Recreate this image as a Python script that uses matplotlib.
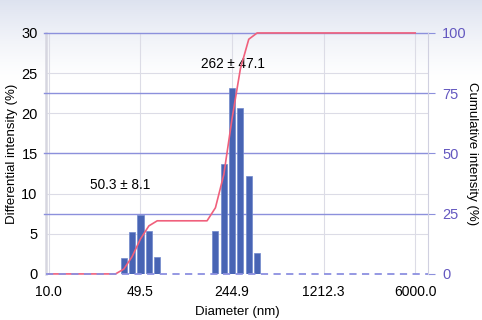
import matplotlib
matplotlib.use("Agg")
import matplotlib.pyplot as plt
import numpy as np

plt.rcParams['font.family'] = ['Liberation Sans', 'DejaVu Sans']

# bin centres (nm) and differential intensity (%) for the two peaks
small_d = [37.0, 42.8, 49.5, 57.3, 66.3]
small_v = [2.0, 5.2, 7.3, 5.4, 2.1]
large_d = [183.2, 212.0, 244.9, 283.4, 327.9, 379.4]
large_v = [5.4, 13.7, 23.2, 20.7, 12.2, 2.6]

# empty bins where the cumulative curve bends
pre_small = 32.0
pre_large = 158.3

xticks = [10.0, 49.5, 244.9, 1212.3, 6000.0]
xtick_labels = ['10.0', '49.5', '244.9', '1212.3', '6000.0']
left_ticks = [0, 5, 10, 15, 20, 25, 30]
right_ticks = [0, 25, 50, 75, 100]

bar_col = '#4864b4'
red = '#f0607c'
blue_grid = '#8c90dc'
purple_txt = '#6458c0'

fig = plt.figure(figsize=(4.82, 3.2), dpi=100)

# soft gradient band at the top of the picture
bg = fig.add_axes([0, 0, 1, 1], zorder=-5)
grad = np.linspace(0, 1, 320).reshape(-1, 1)
alpha = np.clip(1 - grad / 0.25, 0, 1) ** 1.3
img = np.ones((320, 1, 4))
img[..., 0] = 1 - 0.13 * alpha
img[..., 1] = 1 - 0.11 * alpha
img[..., 2] = 1 - 0.06 * alpha
bg.imshow(img, aspect='auto', extent=[0, 1, 0, 1])
bg.axis('off')

ax = fig.add_axes([0.0954, 0.144, 0.793, 0.753])
ax.patch.set_alpha(0)
ax2 = ax.twinx()

ax.set_xscale('log')
xlo, xhi = 9.5, 7530
ax.set_xlim(xlo, xhi)
ax.set_ylim(0, 30)
ax2.set_ylim(0, 100)

# light grey grid
for t in left_ticks[1:-1]:
    ax.axhline(t, color='#dcdce6', lw=0.8, zorder=0)
for t in xticks:
    ax.axvline(t, color='#dcdce6', lw=0.8, zorder=0)

# blue cumulative grid lines
for t in right_ticks[1:]:
    ax2.axhline(t, color=blue_grid, lw=1.0, zorder=1, xmin=-0.006, clip_on=False)

# bars, equal width on log axis
h = 0.0228
for d, v in zip(small_d + large_d, small_v + large_v):
    l = d * 10 ** (-h)
    r = d * 10 ** h
    ax2.bar(l, v / 30 * 100, width=r - l, align='edge', color=bar_col, edgecolor='#7088cc',
            lw=0.5, zorder=3)

# cumulative curve
cum_d = [10.0, pre_small] + small_d + [pre_large] + large_d + [6000.0]
vals = [0, 0] + small_v + [0] + large_v
cum_v = list(np.cumsum(vals))
total = cum_v[-1]
cum_v = [c / total * 100 for c in cum_v] + [100]
ax2.plot(cum_d, cum_v, color=red, lw=1.2, zorder=4, clip_on=False)

# baseline dashed, on top of the curve
ax2.plot([xlo, xhi], [0, 0], ls=(0, (4, 3)), color='#8c90e0', lw=1.3, zorder=5, clip_on=False)

ax.text(34.6, 11.1, '50.3 ± 8.1', ha='center', va='center', fontsize=9.8)
ax.text(249, 26.1, '262 ± 47.1', ha='center', va='center', fontsize=9.8)

ax.set_xticks(xticks)
ax.set_xticklabels(xtick_labels)
ax.xaxis.set_minor_locator(matplotlib.ticker.NullLocator())
ax.set_yticks(left_ticks)
ax2.set_yticks(right_ticks)

ax.tick_params(axis='x', length=0, labelsize=10, pad=8)
ax.tick_params(axis='y', length=0, labelsize=10.5, pad=6)
ax2.tick_params(axis='y', length=5, color=blue_grid, labelcolor=purple_txt, labelsize=10.5, pad=5)

ax.set_xlabel('Diameter (nm)', fontsize=9.5, labelpad=5)
ax.set_ylabel('Differential intensity (%)', fontsize=9.5, labelpad=2)
ax2.set_ylabel('Cumulative intensity (%)', fontsize=9.5, rotation=270, labelpad=8)

for a in (ax, ax2):
    for s in a.spines.values():
        s.set_visible(False)
ax.spines['left'].set_visible(True)
ax.spines['left'].set_color('#d6d6e0')
ax.spines['left'].set_linewidth(1.8)
ax2.spines['right'].set_visible(True)
ax2.spines['right'].set_color('#d0d0e0')
ax2.spines['right'].set_linewidth(0.8)

fig.savefig('out.png', dpi=100)
